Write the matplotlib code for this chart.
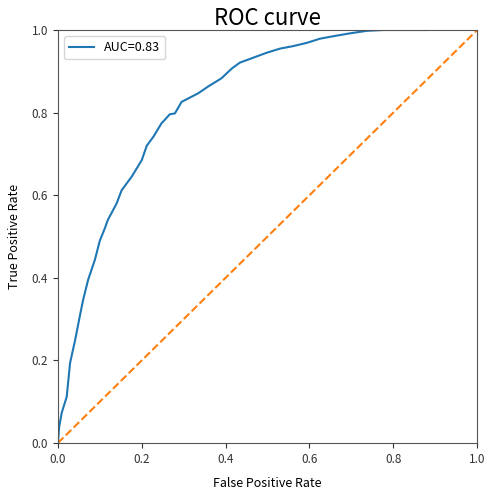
import matplotlib
matplotlib.use("Agg")
import matplotlib.pyplot as plt

plt.rcParams["font.family"] = ["Noto Sans CJK SC", "DejaVu Sans"]

# ROC points
fpr = [0.0, 0.003, 0.009, 0.021, 0.029, 0.041, 0.052, 0.060, 0.072, 0.088,
       0.100, 0.112, 0.119, 0.140, 0.152, 0.176, 0.200, 0.212, 0.228, 0.247,
       0.267, 0.279, 0.295, 0.335, 0.358, 0.390, 0.415, 0.434, 0.466, 0.498,
       0.530, 0.561, 0.594, 0.625, 0.657, 0.697, 0.737, 0.776, 0.880]
tpr = [0.0, 0.039, 0.073, 0.112, 0.194, 0.249, 0.306, 0.346, 0.395, 0.443,
       0.490, 0.520, 0.540, 0.580, 0.612, 0.645, 0.685, 0.720, 0.742, 0.774,
       0.796, 0.798, 0.826, 0.847, 0.863, 0.883, 0.907, 0.921, 0.933, 0.945,
       0.955, 0.961, 0.969, 0.979, 0.985, 0.992, 0.998, 1.000, 1.000]
auc = 0.83

fig = plt.figure(figsize=(4.95, 4.92), dpi=100)
ax = fig.add_axes([0.117, 0.0996, 0.847, 0.8394])

ax.plot(fpr, tpr, color="#1f77b4", lw=1.5, label="AUC=%.2f" % auc)
ax.plot([0, 1], [0, 1], color="#ff7f0e", lw=1.5, linestyle="--")

ax.set_xlim(0, 1)
ax.set_ylim(0, 1)
ax.set_xticks([0, 0.2, 0.4, 0.6, 0.8, 1.0])
ax.set_yticks([0, 0.2, 0.4, 0.6, 0.8, 1.0])
ax.tick_params(labelsize=8.5, colors="#333333", length=3.5)
for s in ax.spines.values():
    s.set_color("#555555")
ax.set_xlabel("False Positive Rate", fontsize=9, labelpad=8)
ax.set_ylabel("True Positive Rate", fontsize=9, labelpad=8)
ax.set_title("ROC curve", fontsize=16, pad=2)
ax.legend(loc="upper left", fontsize=9)

fig.savefig("out.png", dpi=100)
